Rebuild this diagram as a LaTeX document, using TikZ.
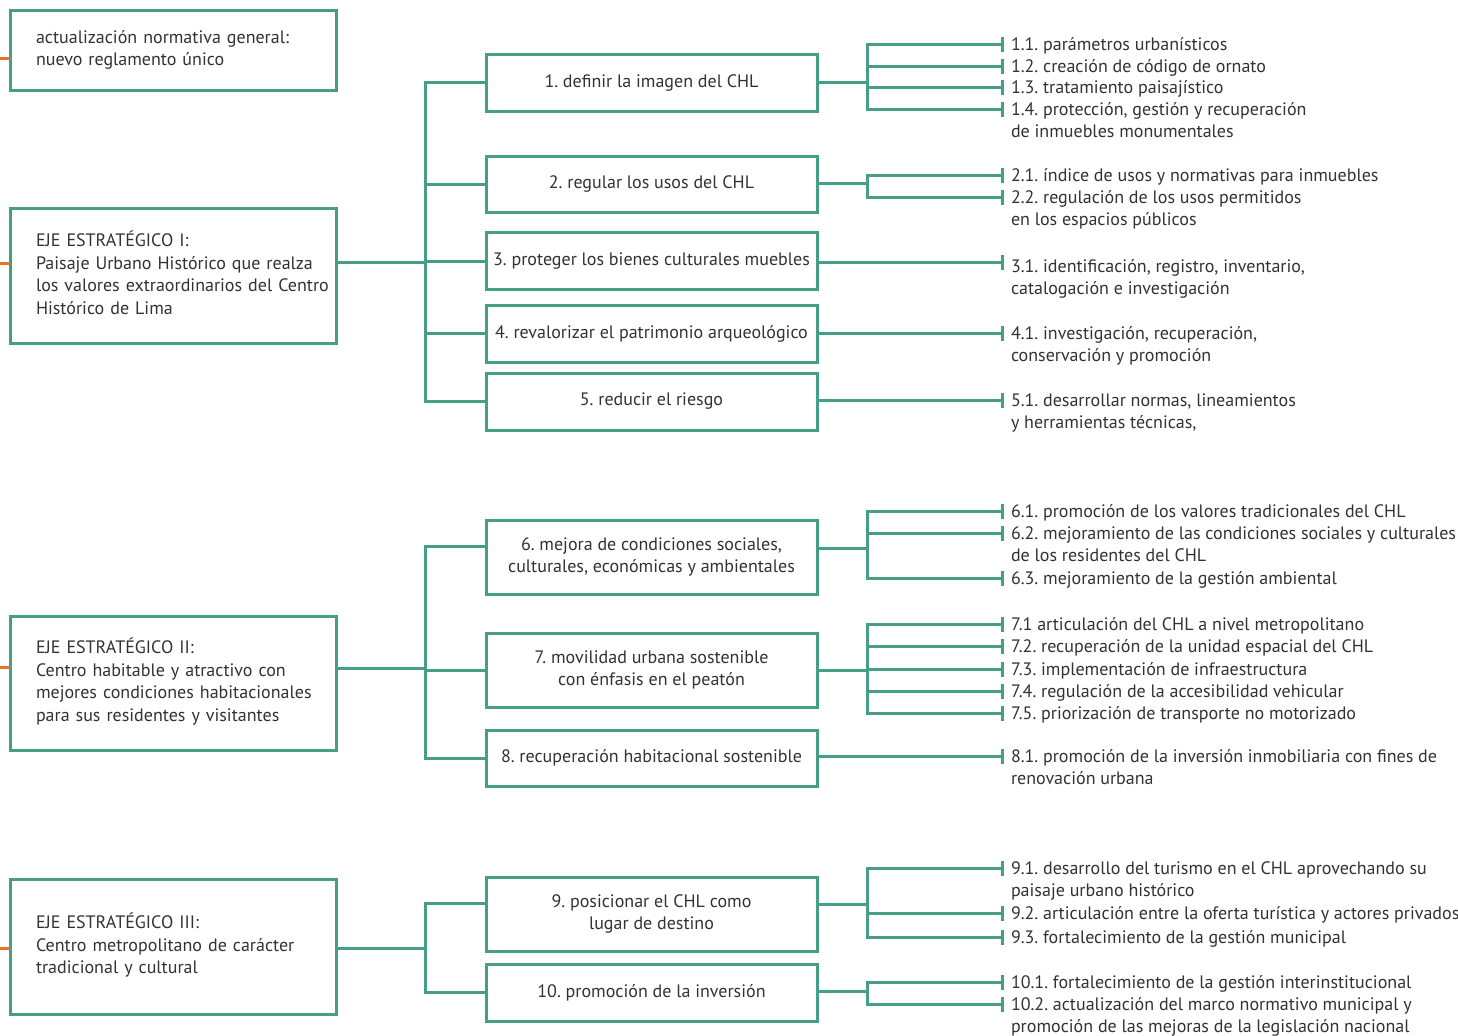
\documentclass[tikz,border=0pt]{standalone}
\usepackage{fontspec}
\setmainfont{PT Sans}
\usetikzlibrary{arrows.meta, positioning}
\definecolor{planteal}{RGB}{70,158,134}
\definecolor{planorange}{RGB}{233,113,36}
\definecolor{plantext}{RGB}{50,50,50}
\newcommand{\textrows}[1]{\begin{tabular}[t]{@{}l@{}}#1\end{tabular}}
\frenchspacing

\begin{document}
\begin{tikzpicture}[
    x=0.5pt, y=-0.5pt,
    font=\fontsize{9}{11.25}\selectfont, text=plantext,
    axisbox/.style={rectangle, draw=planteal, line width=1.5pt, text width=137pt,
                    inner xsep=13pt, inner ysep=0pt, align=left, outer sep=0pt},
    goalbox/.style={rectangle, draw=planteal, line width=1.5pt, minimum width=165.5pt,
                    inner sep=0pt, align=center, outer sep=0pt},
    leaf/.style={anchor=base west, yshift=-3pt, inner xsep=3.5pt, inner ysep=0pt,
                 outer sep=0pt},
    link/.style={draw=planteal, line width=1.5pt, line cap=rect},
    tip/.style={link, -{Bar[width=7.5pt]}},
    stub/.style={draw=planorange, line width=1.5pt}
]
    \useasboundingbox (0,0) rectangle (1458,1035);

    % Column 1: axes
    \node[axisbox, minimum height=40pt] (gen) at (173,50) {\textrows{actualización normativa general:\\nuevo reglamento único}};
    \node[axisbox, minimum height=67.5pt] (eje1) at (173,276) {\textrows{EJE ESTRATÉGICO I:\\Paisaje Urbano Histórico que realza\\los valores extraordinarios del Centro\\Histórico de Lima}};
    \node[axisbox, minimum height=67pt] (eje2) at (173,683) {\textrows{EJE ESTRATÉGICO II:\\Centro habitable y atractivo con\\mejores condiciones habitacionales\\para sus residentes y visitantes}};
    \node[axisbox, minimum height=67.5pt] (eje3) at (173,946.5) {\textrows{EJE ESTRATÉGICO III:\\Centro metropolitano de carácter\\tradicional y cultural}};

    % orange stubs coming in from the left
    \coordinate (o0) at (0,58);
    \coordinate (o1) at (0,263);
    \coordinate (o2) at (0,667);
    \coordinate (o3) at (0,948);
    \draw[stub] (o0) -- (o0 -| gen.west);
    \draw[stub] (o1) -- (o1 -| eje1.west);
    \draw[stub] (o2) -- (o2 -| eje2.west);
    \draw[stub] (o3) -- (o3 -| eje3.west);

    % Column 2: goals
    \node[goalbox, minimum height=28.5pt] (m1) at (651.5,82.5) {1. definir la imagen del CHL};
    \node[goalbox, minimum height=28pt] (m2) at (651.5,184) {2. regular los usos del CHL};
    \node[goalbox, minimum height=28.5pt] (m3) at (651.5,261) {3. proteger los bienes culturales muebles};
    \node[goalbox, minimum height=28.5pt] (m4) at (651.5,333.5) {4. revalorizar el patrimonio arqueológico};
    \node[goalbox, minimum height=28.5pt] (m5) at (651.5,401.5) {5. reducir el riesgo};
    \node[goalbox, minimum height=37pt] (m6) at (651.5,557) {6. mejora de condiciones sociales,\\culturales, económicas y ambientales};
    \node[goalbox, minimum height=37pt] (m7) at (651.5,670) {7. movilidad urbana sostenible\\con énfasis en el peatón};
    \node[goalbox, minimum height=28pt] (m8) at (651.5,758) {8. recuperación habitacional sostenible};
    \node[goalbox, minimum height=37pt] (m9) at (651.5,914) {9. posicionar el CHL como\\lugar de destino};
    \node[goalbox, minimum height=28.5pt] (m10) at (651.5,992.5) {10. promoción de la inversión};

    % axis -> goals
    \coordinate (j1) at (425,262);
    \coordinate (j2) at (425,668);
    \coordinate (j3) at (425,948);
    \draw[link] (eje1.east |- j1) -- (j1);
    \draw[link] (eje2.east |- j2) -- (j2);
    \draw[link] (eje3.east |- j3) -- (j3);
    \draw[link] (j1 |- m1.west) -- (j1 |- m5.west);
    \draw[link] ([yshift=5.5pt]m6.west -| j2) -- (j2 |- m8.west);
    \draw[link] ([yshift=5.5pt]m9.west -| j3) -- (j3 |- m10.west);
    \foreach \m in {m1,m2,m3,m4,m5,m7,m8,m10}
        \draw[link] (\m.west -| j1) -- (\m.west);
    \draw[link] ([yshift=5.5pt]m6.west -| j2) -- ([yshift=5.5pt]m6.west);
    \draw[link] ([yshift=5.5pt]m9.west -| j3) -- ([yshift=5.5pt]m9.west);

    % Column 3: actions
    \coordinate (r1) at (867,82);
    \coordinate (r2) at (867,183);
    \coordinate (r6) at (867,548);
    \coordinate (r7) at (867,670);
    \coordinate (r9) at (867,904);
    \coordinate (r10) at (867,991);

    \coordinate (t11) at (1004,44);
    \coordinate (t12) at (1004,66);
    \coordinate (t13) at (1004,87);
    \coordinate (t14) at (1004,109);
    \coordinate (t21) at (1004,175);
    \coordinate (t22) at (1004,197);
    \coordinate (t31) at (1004,262);
    \coordinate (t41) at (1004,333);
    \coordinate (t51) at (1004,400);
    \coordinate (t61) at (1004,511);
    \coordinate (t62) at (1004,533);
    \coordinate (t63) at (1004,578);
    \coordinate (t71) at (1004,624);
    \coordinate (t72) at (1004,646);
    \coordinate (t73) at (1004,669);
    \coordinate (t74) at (1004,691);
    \coordinate (t75) at (1004,713);
    \coordinate (t81) at (1004,756);
    \coordinate (t91) at (1004,868);
    \coordinate (t92) at (1004,913);
    \coordinate (t93) at (1004,937);
    \coordinate (t101) at (1004,982);
    \coordinate (t102) at (1004,1004);

    \node[leaf] (a11) at (t11) {1.1. parámetros urbanísticos};
    \node[leaf] (a12) at (t12) {1.2. creación de código de ornato};
    \node[leaf] (a13) at (t13) {1.3. tratamiento paisajístico};
    \node[leaf] (a14) at (t14) {\textrows{1.4. protección, gestión y recuperación\\de inmuebles monumentales}};
    \node[leaf] (a21) at (t21) {2.1. índice de usos y normativas para inmuebles};
    \node[leaf] (a22) at (t22) {\textrows{2.2. regulación de los usos permitidos\\en los espacios públicos}};
    \node[leaf] (a31) at ([yshift=-2pt]t31) {\textrows{3.1. identificación, registro, inventario,\\catalogación e investigación}};
    \node[leaf] (a41) at (t41) {\textrows{4.1. investigación, recuperación,\\conservación y promoción}};
    \node[leaf] (a51) at (t51) {\textrows{5.1. desarrollar normas, lineamientos\\y herramientas técnicas,}};
    \node[leaf] (a61) at (t61) {6.1. promoción de los valores tradicionales del CHL};
    \node[leaf] (a62) at (t62) {\textrows{6.2. mejoramiento de las condiciones sociales y culturales\\de los residentes del CHL}};
    \node[leaf] (a63) at (t63) {6.3. mejoramiento de la gestión ambiental};
    \node[leaf] (a71) at (t71) {7.1 articulación del CHL a nivel metropolitano};
    \node[leaf] (a72) at (t72) {7.2. recuperación de la unidad espacial del CHL};
    \node[leaf] (a73) at (t73) {7.3. implementación de infraestructura};
    \node[leaf] (a74) at (t74) {7.4. regulación de la accesibilidad vehicular};
    \node[leaf] (a75) at (t75) {7.5. priorización de transporte no motorizado};
    \node[leaf] (a81) at (t81) {\textrows{8.1. promoción de la inversión inmobiliaria con fines de\\renovación urbana}};
    \node[leaf] (a91) at (t91) {\textrows{9.1. desarrollo del turismo en el CHL aprovechando su\\paisaje urbano histórico}};
    \node[leaf] (a92) at (t92) {9.2. articulación entre la oferta turística y actores privados};
    \node[leaf] (a93) at (t93) {9.3. fortalecimiento de la gestión municipal};
    \node[leaf] (a101) at (t101) {10.1. fortalecimiento de la gestión interinstitucional};
    \node[leaf] (a102) at (t102) {\textrows{10.2. actualización del marco normativo municipal y\\promoción de las mejoras de la legislación nacional}};

    % goals -> actions
    \draw[link] (m1.east |- r1) -- (r1);
    \draw[link] (m2.east |- r2) -- (r2);
    \draw[link] (m6.east |- r6) -- (r6);
    \draw[link] (m7.east |- r7) -- (r7);
    \draw[link] (m9.east |- r9) -- (r9);
    \draw[link] (m10.east |- r10) -- (r10);
    \draw[link] (t11 -| r1) -- (t14 -| r1);
    \draw[link] (t21 -| r2) -- (t22 -| r2);
    \draw[link] (t61 -| r6) -- (t63 -| r6);
    \draw[link] (t71 -| r7) -- (t75 -| r7);
    \draw[link] (t91 -| r9) -- (t93 -| r9);
    \draw[link] (t101 -| r10) -- (t102 -| r10);
    \foreach \t in {t11,t12,t13,t14} \draw[tip] (\t -| r1) -- (\t);
    \foreach \t in {t21,t22} \draw[tip] (\t -| r2) -- (\t);
    \foreach \t in {t61,t62,t63} \draw[tip] (\t -| r6) -- (\t);
    \foreach \t in {t71,t72,t73,t74,t75} \draw[tip] (\t -| r7) -- (\t);
    \foreach \t in {t91,t92,t93} \draw[tip] (\t -| r9) -- (\t);
    \foreach \t in {t101,t102} \draw[tip] (\t -| r10) -- (\t);
    \draw[tip] (m3.east |- t31) -- (t31);
    \draw[tip] (m4.east |- t41) -- (t41);
    \draw[tip] (m5.east |- t51) -- (t51);
    \draw[tip] (m8.east |- t81) -- (t81);
\end{tikzpicture}
\end{document}
